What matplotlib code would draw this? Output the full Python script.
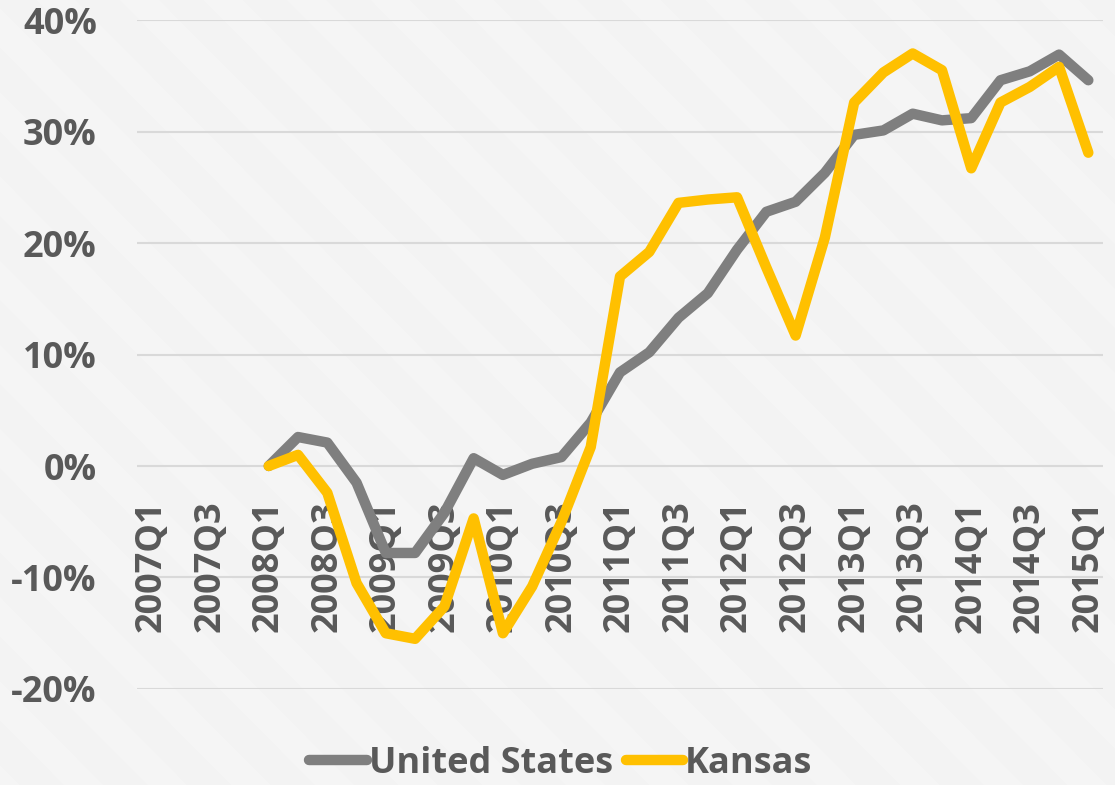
import matplotlib.pyplot as plt
import matplotlib.lines as mlines
import numpy as np

plt.rcParams['font.family'] = ['Open Sans', 'DejaVu Sans']

quarters = ['%dQ%d' % (y, q) for y in range(2007, 2016) for q in range(1, 5)][:33]

# values from 2008Q1 onwards (earlier quarters are blank)
us = [0.0, 2.6, 2.1, -1.5, -7.8, -7.8, -4.2, 0.7, -0.8, 0.2, 0.8, 3.9,
      8.4, 10.2, 13.3, 15.5, 19.4, 22.8, 23.7, 26.3, 29.7, 30.1, 31.6,
      31.0, 31.2, 34.6, 35.4, 36.9, 34.6]
kansas = [0.0, 1.0, -2.4, -10.5, -15.0, -15.5, -12.6, -4.7, -15.0, -10.8,
          -5.0, 1.7, 17.0, 19.2, 23.6, 23.9, 24.1, 17.8, 11.7, 20.5, 32.6,
          35.3, 37.0, 35.5, 26.7, 32.6, 34.0, 35.8, 28.1]
yticks = [-0.2, -0.1, 0.0, 0.1, 0.2, 0.3, 0.4]
first_idx = quarters.index('2008Q1')

text_c = '#595959'
fig = plt.figure(figsize=(11.15, 7.85), dpi=100)
fig.patch.set_facecolor('#f3f3f3')

# faint diagonal stripes in the background
for s in np.arange(-1.0, 2.2, 0.075):
    fig.add_artist(mlines.Line2D([s, s + 0.7], [1.0, 0.0], transform=fig.transFigure,
                                 color='#f8f8f8', lw=20, alpha=0.5, zorder=-10))

ax = fig.add_axes([0.1229, 0.1223, 0.8663, 0.8522])
ax.set_facecolor('none')

# gridlines drawn by hand so they stay under the series
for yt in yticks:
    ax.axhline(yt, color='#d9d9d9', lw=1.5, zorder=1)

x = np.arange(first_idx, first_idx + len(us))
ax.plot(x, np.array(us) / 100, color='#7f7f7f', lw=7.5, solid_capstyle='round',
        solid_joinstyle='round', label='United States', zorder=2)
ax.plot(x, np.array(kansas) / 100, color='#ffc000', lw=7.5, solid_capstyle='round',
        solid_joinstyle='round', label='Kansas', zorder=2.1)

ax.set_xlim(-0.5, len(quarters) - 0.5)
ax.set_ylim(-0.2, 0.4)
ax.set_yticks(yticks)
ax.set_yticklabels(['%d%%' % round(v * 100) for v in yticks])
ax.set_xticks(range(0, len(quarters), 2))
ax.set_xticklabels(quarters[::2])

for sp in ['top', 'right', 'left']:
    ax.spines[sp].set_visible(False)
ax.spines['bottom'].set_position(('data', 0))
ax.spines['bottom'].set_visible(False)

ax.tick_params(axis='y', length=0, pad=29, labelsize=26, labelcolor=text_c)
ax.tick_params(axis='x', length=0, pad=25, labelsize=26, labelcolor=text_c,
               labelrotation=90)
for lbl in ax.get_xticklabels() + ax.get_yticklabels():
    lbl.set_fontweight('bold')

fig.legend(loc='center', bbox_to_anchor=(0.503, 0.027), ncol=2, frameon=False,
           labelcolor=text_c, prop={'weight': 'bold', 'size': 26},
           handlelength=1.6, handletextpad=0.05, columnspacing=0.35)

fig.savefig('out.png', dpi=100, facecolor=fig.get_facecolor())
